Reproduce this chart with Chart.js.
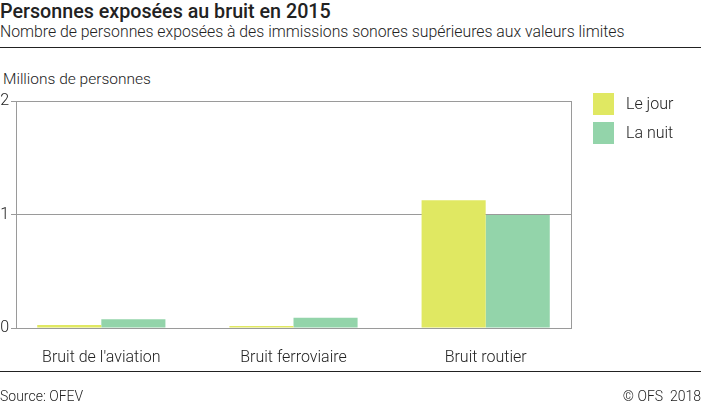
<!DOCTYPE html>
<html>
<head>
<meta charset="utf-8">
<script src="https://cdn.jsdelivr.net/npm/chart.js@4.4.1/dist/chart.umd.min.js"></script>
<style>
    body { margin: 0; width: 701px; height: 410px; position: relative; font-family: Roboto, sans-serif; color: #222; background: #fff; overflow: hidden; }
    #wrap { position: absolute; left: 0; top: 0; width: 701px; height: 410px; }
    .txt { position: absolute; white-space: nowrap; }
    #title { left: 0; top: 0px; font-size: 19.7px; font-weight: 500; }
    #subtitle { left: 0; top: 22px; font-size: 15.8px; font-weight: 300; }
    .rule { position: absolute; left: 0; width: 701px; height: 1px; background: #222; }
    #axistitle { left: 3px; top: 70px; font-size: 15.5px; font-weight: 300; }
    #source { left: 0; top: 388px; font-size: 14px; font-weight: 300; }
    #copy { right: 0; top: 388px; font-size: 14px; font-weight: 300; }
    #legend { position: absolute; left: 593px; top: 89px; font-size: 16px; font-weight: 300; }
    .item { height: 29px; display: flex; align-items: center; }
    .box { width: 21px; height: 22px; margin-right: 12px; }
</style>
</head>
<body>
<div class="txt" id="title">Personnes exposées au bruit en 2015</div>
<div class="txt" id="subtitle">Nombre de personnes exposées à des immissions sonores supérieures aux valeurs limites</div>
<div class="rule" style="top:47px"></div>
<div class="txt" id="axistitle">Millions de personnes</div>
<div id="wrap"><canvas id="myChart" width="701" height="410"></canvas></div>
<div id="legend"></div>
<div class="rule" style="top:371px"></div>
<div class="txt" id="source">Source: OFEV</div>
<div class="txt" id="copy">© OFS&nbsp; 2018</div>
<script>
// Data
var categories = ["Bruit de l'aviation", 'Bruit ferroviaire', 'Bruit routier'];
var seriesNames = ['Le jour', 'La nuit'];
var jour = [0.026, 0.018, 1.125];
var nuit = [0.077, 0.09, 0.995];
var yTicks = [0, 1, 2];
var colors = ['#e0e862', '#93d4aa'];

var ctx = document.getElementById('myChart').getContext('2d');

// draw the right border of the frame
var frame = {
    id: 'frame',
    afterDraw: function(chart) {
        var a = chart.chartArea;
        var c = chart.ctx;
        c.save();
        c.strokeStyle = '#9a9a9a';
        c.lineWidth = 1;
        c.beginPath();
        c.moveTo(Math.round(a.right) + 0.5, a.top);
        c.lineTo(Math.round(a.right) + 0.5, a.bottom);
        c.stroke();
        c.restore();
    }
};

var myChart = new Chart(ctx, {
    type: 'bar',
    data: {
        datasets: [{
            label: seriesNames[0],
            data: jour.map(function(v, i) { return { x: i, y: v }; }),
            backgroundColor: colors[0]
        }, {
            label: seriesNames[1],
            data: nuit.map(function(v, i) { return { x: i, y: v }; }),
            backgroundColor: colors[1]
        }]
    },
    options: {
        responsive: false,
        animation: false,
        devicePixelRatio: 1,
        categoryPercentage: 0.667,
        barPercentage: 1,
        layout: { padding: { top: 101, right: 130, left: 0, bottom: 0 } },
        plugins: { legend: { display: false }, tooltip: { enabled: false } },
        scales: {
            x: {
                type: 'linear',
                offset: false,
                min: -0.444,
                max: 2.444,
                afterBuildTicks: function(scale) {
                    scale.ticks = categories.map(function(c, i) { return { value: i }; });
                },
                afterFit: function(scale) { scale.height = 82; },
                grid: { display: false, offset: false },
                border: { color: '#9a9a9a' },
                ticks: {
                    padding: 12,
                    color: '#222',
                    font: { family: 'Roboto', size: 16, weight: 300 },
                    callback: function(v) { return categories[v]; }
                }
            },
            y: {
                min: 0,
                max: 2,
                afterBuildTicks: function(scale) {
                    scale.ticks = yTicks.map(function(v) { return { value: v }; });
                },
                afterFit: function(scale) { scale.width = 16; },
                grid: { color: '#9a9a9a', tickLength: 5 },
                border: { color: '#9a9a9a' },
                ticks: {
                    padding: 2,
                    color: '#222',
                    font: { family: 'Roboto', size: 16, weight: 300 }
                }
            }
        }
    },
    plugins: [frame]
});

// Legend
var legend = document.getElementById('legend');
seriesNames.forEach(function(name, i) {
    var item = document.createElement('div');
    item.className = 'item';
    item.innerHTML = '<div class="box" style="background:' + colors[i] + '"></div>' + name;
    legend.appendChild(item);
});
</script>
</body>
</html>
